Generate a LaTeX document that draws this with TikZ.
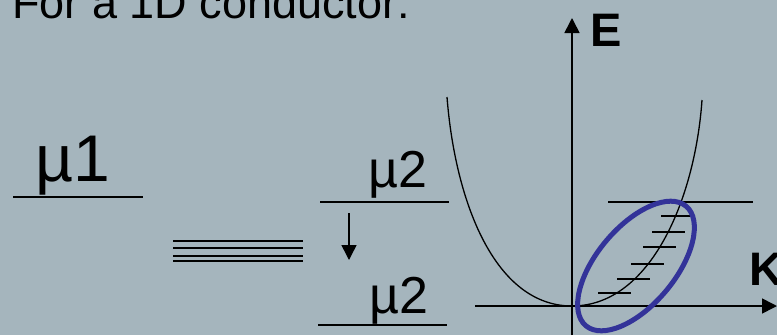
\documentclass[tikz,border=0pt]{standalone}
\usepackage{fontspec}
\setmainfont{Liberation Sans}
\usetikzlibrary{arrows.meta}
\definecolor{slidebg}{RGB}{165,181,189}
\definecolor{ringblue}{RGB}{51,51,153}

\begin{document}
\begin{tikzpicture}[x=1pt, y=-1pt,
  lvl/.style={line width=1.5pt},
  tick/.style={line width=1.8pt},
  axis/.style={line width=1.6pt, -{Triangle[length=15pt, width=15pt]}},
  txt/.style={inner sep=0pt, anchor=base west},
  bigtxt/.style={txt, font=\fontsize{66}{70}\selectfont},
  midtxt/.style={txt, font=\fontsize{52}{56}\selectfont},
  axtxt/.style={txt, font=\fontsize{47}{50}\selectfont\bfseries}
]
\useasboundingbox (0,0) rectangle (777,335);
\clip (0,0) rectangle (777,335);
\fill[slidebg] (0,0) rectangle (777,335);

% title, cut at the top edge
\node[txt, font=\fontsize{45}{50}\selectfont] (title) at (12,18) {For a 1D conductor:};

% left side: levels
\node[bigtxt] (mua) at (35,181) {µ1};
\draw[lvl] (13,197) -- (143,197);
\foreach \y in {241,248,256,261}
  \draw[lvl] (173,\y) -- (303,\y);
\node[midtxt] (mub) at (368,187) {µ2};
\draw[lvl] (320,202) -- (449,202);
\coordinate (drop1) at (349,213);
\coordinate (drop2) at (349,260);
\draw[line width=1.5pt, -{Triangle[length=15pt, width=15pt]}] (drop1) -- (drop2);
\node[midtxt] (muc) at (369,313) {µ2};
\draw[lvl] (318,325) -- (447,325);

% band diagram
\coordinate (orig) at (572,306);
\coordinate (etop) at (572,18);
\coordinate (kleft) at (475,306);
\coordinate (kright) at (777,306);
\draw[axis] (572,335) -- (etop);
\draw[axis] (kleft) -- (kright);
\node[axtxt] (elbl) at (590,46) {E};
\node[axtxt] (klbl) at (749,285) {K};

\draw[line width=1.3pt] (447,97) .. controls (455,200) and (494,306) .. (orig)
  .. controls (650,306) and (695,200) .. (702,100);
\draw[tick] (608,202) -- (753,202);
\foreach \xa/\y in {661/216,652/232,643/247,631/264,617/279,598/293}
  \draw[tick] (\xa,\y) -- ++(33,0);

\draw[ringblue, line width=5pt, rotate around={50:(636,266)}]
  (636,266) ellipse [x radius=78, y radius=39];
\end{tikzpicture}
\end{document}
